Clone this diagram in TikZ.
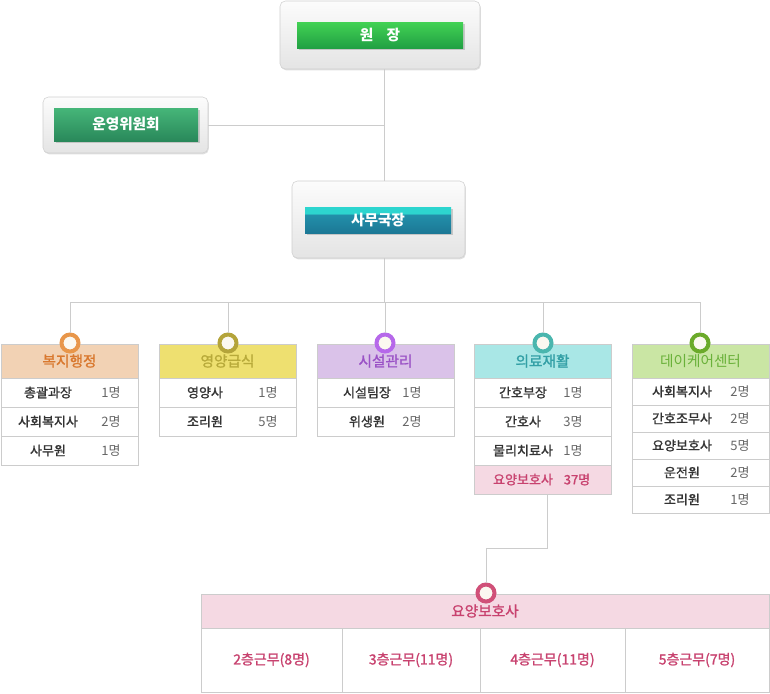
\documentclass[tikz,border=0pt]{standalone}
\usepackage{fontspec}
\setmainfont{Noto Sans CJK KR}
\newfontfamily\semibold[FakeBold=1.3]{Noto Sans CJK KR}
\usetikzlibrary{positioning,shadows,calc}
\definecolor{linegray}{HTML}{CCCCCC}
\definecolor{framegray}{HTML}{CFCFCF}
\definecolor{boxtop}{HTML}{FCFCFC}
\definecolor{boxbottom}{HTML}{E4E4E4}
\definecolor{greentop}{HTML}{42D254}
\definecolor{greenbottom}{HTML}{21A043}
\definecolor{jadetop}{HTML}{46B679}
\definecolor{jadebottom}{HTML}{29885A}
\definecolor{tealtop}{HTML}{2DD5CF}
\definecolor{tealmid}{HTML}{2290AA}
\definecolor{tealbottom}{HTML}{1C7896}
\definecolor{textdark}{HTML}{333333}
\definecolor{countgray}{HTML}{666666}
\definecolor{ringfill}{HTML}{FBF8F0}
\definecolor{welfill}{HTML}{F2D2B4}
\definecolor{weltext}{HTML}{D9782E}
\definecolor{welring}{HTML}{E8964A}
\definecolor{foodfill}{HTML}{EEE070}
\definecolor{foodtext}{HTML}{B8AA3A}
\definecolor{foodring}{HTML}{B4A43A}
\definecolor{facfill}{HTML}{DAC2E9}
\definecolor{factext}{HTML}{9A52C6}
\definecolor{facring}{HTML}{B668EA}
\definecolor{medfill}{HTML}{A9E7E6}
\definecolor{medtext}{HTML}{33A0A6}
\definecolor{medring}{HTML}{4AB6AE}
\definecolor{dayfill}{HTML}{CAE6A4}
\definecolor{daytext}{HTML}{6AB13A}
\definecolor{dayring}{HTML}{6BAA2A}
\definecolor{carefill}{HTML}{F5D9E3}
\definecolor{caretext}{HTML}{C8426F}
\definecolor{carering}{HTML}{D05078}
\pgfdeclareverticalshading{tealbar}{100bp}{color(0bp)=(tealbottom); color(25bp)=(tealbottom); color(61bp)=(tealmid); color(62bp)=(tealtop); color(75bp)=(tealtop); color(100bp)=(tealtop)}
% label centre and count centre are given in px from the row's left edge
\newcommand{\staffline}[5][countgray]{\makebox[102.75pt][l]{\hspace*{\dimexpr#2pt*3/4\relax}\makebox[0pt]{\semibold#4}\hspace*{\dimexpr(#3pt-#2pt)*3/4\relax}\makebox[0pt]{\color{#1}#5}}}
\tikzset{
  framebox/.style={
    rectangle, rounded corners=4pt, draw=framegray, top color=boxtop, bottom color=boxbottom,
    drop shadow={shadow xshift=0.6pt, shadow yshift=-1pt, opacity=0.25}
  },
  titlebar/.style={
    rectangle, inner sep=0pt, text=white, font=\fontsize{11}{13}\selectfont\bfseries,
    drop shadow={shadow xshift=1.2pt, shadow yshift=-1.2pt, opacity=0.35}
  },
  colhead/.style={
    rectangle, draw=linegray, fill=#1fill, text=#1text, minimum width=102.75pt,
    minimum height=25.5pt, inner sep=0pt, outer sep=0pt, font=\fontsize{11}{13}\selectfont\semibold
  },
  staffrow/.style={
    rectangle, draw=linegray, fill=white, minimum height=21.75pt, inner sep=0pt,
    outer sep=0pt, text=textdark, font=\fontsize{9.75}{11}\selectfont
  },
  floorbox/.style={
    rectangle, draw=linegray, fill=white, minimum height=48pt, inner sep=0pt,
    outer sep=0pt, text=caretext, font=\fontsize{10.5}{12}\selectfont\semibold
  },
  ring/.style={circle, draw=#1ring, line width=3pt, fill=ringfill, minimum size=12.75pt, inner sep=0pt},
  link/.style={draw=linegray, line width=0.75pt}
}

\begin{document}
\begin{tikzpicture}[x=0.75pt, y=-0.75pt]
\useasboundingbox (0,0) rectangle (770,693);

% top of the chart
\node[framebox, minimum width=150pt, minimum height=51pt] (chiefbox) at (380,35) {};
\node[titlebar, top color=greentop, bottom color=greenbottom, minimum width=124.5pt, minimum height=19.5pt] (chief) at (380,35) {원\hspace{0.9em}장};
\node[framebox, minimum width=123.75pt, minimum height=42pt] (boardbox) at (125.5,125) {};
\node[titlebar, top color=jadetop, bottom color=jadebottom, minimum width=108pt, minimum height=24.75pt] (board) at (126,124.5) {운영위원회};
\node[framebox, minimum width=129.75pt, minimum height=57.75pt] (officebox) at (378.5,219.5) {};
\node[titlebar, shading=tealbar, minimum width=109.5pt, minimum height=19.5pt] (office) at (378,220) {사무국장};

% departments
\node[colhead=wel, anchor=north west] (welhead) at (1,344) {복지행정};
\node[staffrow, below=0pt of welhead] (wel1) {\staffline{47}{110}{총괄과장}{1명}};
\node[staffrow, below=0pt of wel1] (wel2) {\staffline{47}{110}{사회복지사}{2명}};
\node[staffrow, below=0pt of wel2] (wel3) {\staffline{47}{110}{사무원}{1명}};

\node[colhead=food, anchor=north west] (foodhead) at (159,344) {영양급식};
\node[staffrow, below=0pt of foodhead] (food1) {\staffline{46}{109}{영양사}{1명}};
\node[staffrow, below=0pt of food1] (food2) {\staffline{46}{109}{조리원}{5명}};

\node[colhead=fac, anchor=north west] (fachead) at (317,344) {시설관리};
\node[staffrow, below=0pt of fachead] (fac1) {\staffline{50}{95}{시설팀장}{1명}};
\node[staffrow, below=0pt of fac1] (fac2) {\staffline{50}{95}{위생원}{2명}};

\node[colhead=med, anchor=north west] (medhead) at (474,344) {의료재활};
\node[staffrow, below=0pt of medhead] (med1) {\staffline{49}{99}{간호부장}{1명}};
\node[staffrow, below=0pt of med1] (med2) {\staffline{49}{99}{간호사}{3명}};
\node[staffrow, below=0pt of med2] (med3) {\staffline{49}{99}{물리치료사}{1명}};
\node[staffrow, below=0pt of med3, fill=carefill, text=caretext] (med4) {\staffline[caretext]{49}{103}{요양보호사}{\semibold 37명}};

\node[colhead=day, anchor=north west, font=\fontsize{11}{13}\selectfont] (dayhead) at (632,344) {데이케어센터};
\node[staffrow, minimum height=20.25pt, below=0pt of dayhead] (day1) {\staffline{50}{108}{사회복지사}{2명}};
\node[staffrow, minimum height=20.25pt, below=0pt of day1] (day2) {\staffline{50}{108}{간호조무사}{2명}};
\node[staffrow, minimum height=20.25pt, below=0pt of day2] (day3) {\staffline{50}{108}{요양보호사}{5명}};
\node[staffrow, minimum height=20.25pt, below=0pt of day3] (day4) {\staffline{50}{108}{운전원}{2명}};
\node[staffrow, minimum height=20.25pt, below=0pt of day4] (day5) {\staffline{50}{108}{조리원}{1명}};

% care workers by floor
\node[colhead=care, anchor=north west, minimum width=426pt] (carehead) at (201,594) {요양보호사};
\node[floorbox, minimum width=105.75pt, anchor=north west] (floor2) at (carehead.south west) {2층근무(8명)};
\node[floorbox, minimum width=103.5pt, right=0pt of floor2] (floor3) {3층근무(11명)};
\node[floorbox, minimum width=108.75pt, right=0pt of floor3] (floor4) {4층근무(11명)};
\node[floorbox, minimum width=108pt, right=0pt of floor4] (floor5) {5층근무(7명)};

% connectors
\coordinate (spine) at (384,302);
\coordinate (bend) at (547,548);
\draw[link] (chiefbox.south -| spine) -- (officebox.north -| spine);
\draw[link] (boardbox.east) -- (boardbox.east -| spine);
\draw[link] (officebox.south -| spine) -- (spine);
\draw[link] (70,302) -- (700,302);
\node[ring=wel] (welring) at (70,343) {};
\node[ring=food] (foodring) at (228,343) {};
\node[ring=fac] (facring) at (385,343) {};
\node[ring=med] (medring) at (543,343) {};
\node[ring=day] (dayring) at (700,343) {};
\node[ring=care] (carering) at (486,593) {};
\foreach \r in {welring,foodring,facring,medring,dayring}
  \draw[link] (spine -| \r) -- (\r);
\draw[link] (med4.south -| bend) -- (bend) -| (carering);
\end{tikzpicture}
\end{document}
